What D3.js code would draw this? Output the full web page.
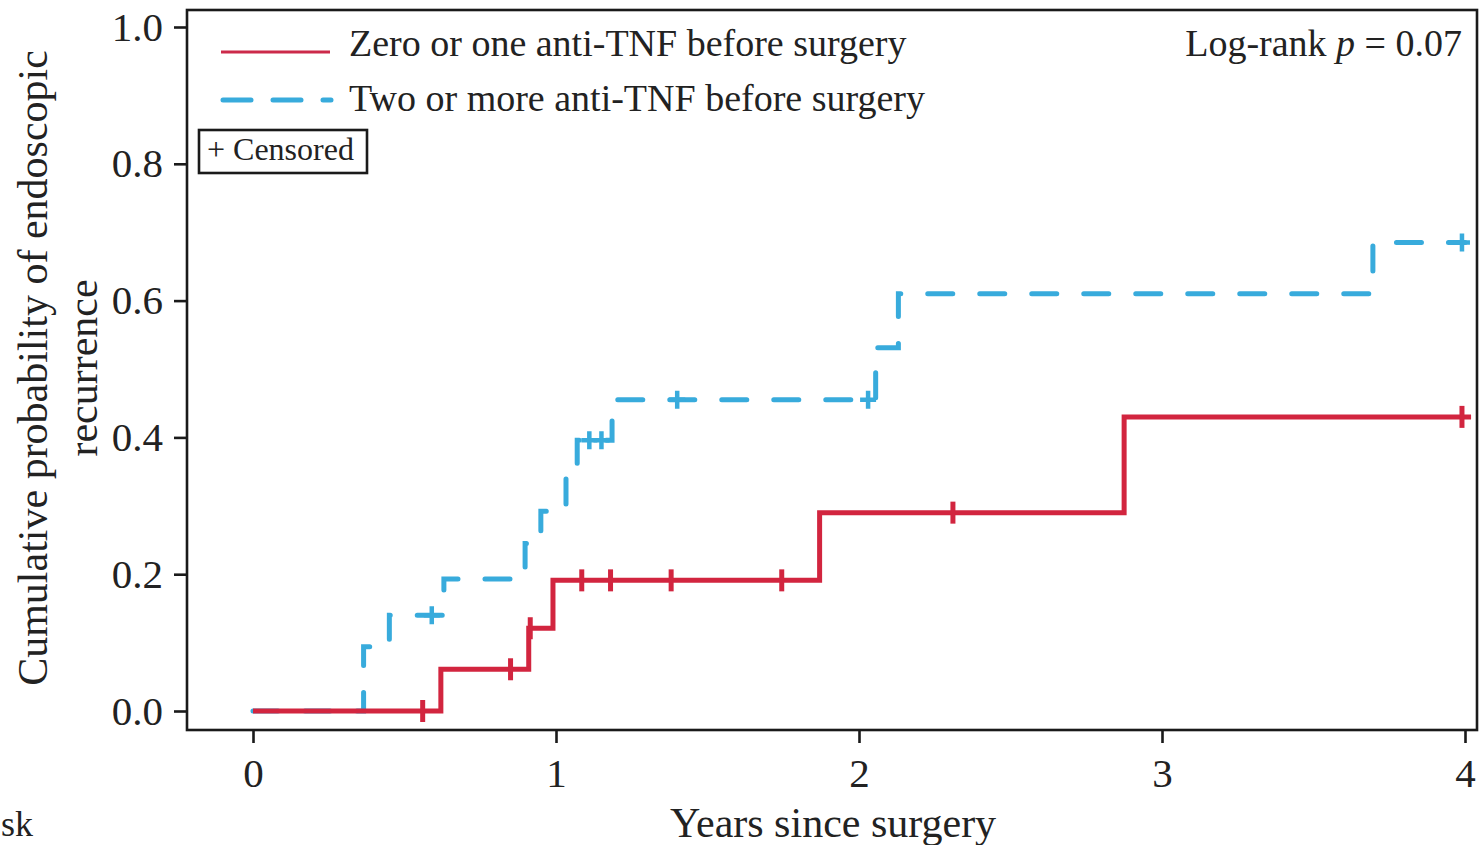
<!DOCTYPE html>
<html>
<head>
<meta charset="utf-8">
<script src="https://cdn.jsdelivr.net/npm/d3@7"></script>
<style>
  body { margin: 0; background: #fff; }
  svg { display: block; font-family: "Liberation Serif", "Times New Roman", serif; }
</style>
</head>
<body>
<div id="chart"></div>
<script>
// Kaplan-Meier style cumulative probability
const lowTimes = [0, 0.62, 0.91, 0.99, 1.87, 2.875, 4.02];
const lowProb = [0, 0.061, 0.121, 0.191, 0.29, 0.43, 0.43];
const lowCensor = [0.56, 0.85, 0.915, 1.085, 1.18, 1.38, 1.745, 2.31, 3.99];

const highTimes = [0, 0.365, 0.45, 0.63, 0.898, 0.95, 1.033, 1.07, 1.185, 2.055, 2.13, 3.696, 4.0];
const highProb = [0, 0.094, 0.14, 0.193, 0.245, 0.292, 0.346, 0.396, 0.455, 0.531, 0.61, 0.685, 0.685];
const highCensor = [0.59, 1.11, 1.15, 1.40, 2.03, 3.99];

const seriesNames = ["Zero or one anti-TNF before surgery", "Two or more anti-TNF before surgery"];
const xTicks = [0, 1, 2, 3, 4];
const yTicks = [0, 0.2, 0.4, 0.6, 0.8, 1.0];

const W = 1479, H = 845;
const red = "#d2253f", blue = "#38abdc";

const svg = d3.select("#chart").append("svg")
    .attr("width", W)
    .attr("height", H);

const x = d3.scaleLinear().domain([0, 4]).range([253, 1465]);
const y = d3.scaleLinear().domain([0, 1]).range([711, 27]);

// frame
svg.append("rect")
    .attr("x", 187).attr("y", 10)
    .attr("width", 1290).attr("height", 720)
    .attr("fill", "none")
    .attr("stroke", "#1a1a1a")
    .attr("stroke-width", 2.6);

const yAxis = svg.append("g")
    .attr("transform", "translate(187,0)")
    .call(d3.axisLeft(y).tickValues(yTicks).tickFormat(d3.format(".1f")).tickSize(13).tickPadding(11));
const xAxis = svg.append("g")
    .attr("transform", "translate(0,730)")
    .call(d3.axisBottom(x).tickValues(xTicks).tickFormat(d3.format("d")).tickSize(13).tickPadding(15));

[xAxis, yAxis].forEach(a => {
    a.select(".domain").remove();
    a.selectAll(".tick line").attr("stroke", "#1a1a1a").attr("stroke-width", 2.6);
    a.selectAll(".tick text")
        .attr("fill", "#222")
        .style("font-family", "Liberation Serif, serif")
        .style("font-size", "41px");
});

// step value at time t
function stepAt(times, probs, t) {
    let v = probs[0];
    times.forEach((tt, i) => { if (tt <= t) v = probs[i]; });
    return v;
}

const line = d3.line()
    .x(d => x(d[0]))
    .y(d => y(d[1]))
    .curve(d3.curveStepAfter);

// two or more anti-TNF (dashed)
svg.append("path")
    .attr("d", line(highTimes.map((t, i) => [t, highProb[i]])))
    .attr("fill", "none")
    .attr("stroke", blue)
    .attr("stroke-width", 5)
    .attr("stroke-linecap", "round")
    .attr("stroke-dasharray", "25,27");

svg.selectAll(".cens-high").data(highCensor).enter().append("path")
    .attr("class", "cens-high")
    .attr("d", d => {
        const cx = x(d), cy = y(stepAt(highTimes, highProb, d));
        return `M${cx},${cy - 9}V${cy + 9}M${cx - 8},${cy}H${cx + 8}`;
    })
    .attr("stroke", blue)
    .attr("stroke-width", 4.5)
    .attr("fill", "none");

// zero or one anti-TNF (solid)
svg.append("path")
    .attr("d", line(lowTimes.map((t, i) => [t, lowProb[i]])))
    .attr("fill", "none")
    .attr("stroke", red)
    .attr("stroke-width", 5);

svg.selectAll(".cens-low").data(lowCensor).enter().append("path")
    .attr("class", "cens-low")
    .attr("d", d => {
        const cx = x(d), cy = y(stepAt(lowTimes, lowProb, d));
        return `M${cx},${cy - 11}V${cy + 11}`;
    })
    .attr("stroke", red)
    .attr("stroke-width", 5)
    .attr("fill", "none");

// legend
svg.append("line")
    .attr("x1", 221).attr("x2", 330).attr("y1", 52).attr("y2", 52)
    .attr("stroke", "#cc2a4a").attr("stroke-width", 3);
svg.append("line")
    .attr("x1", 223).attr("x2", 331).attr("y1", 100).attr("y2", 100)
    .attr("stroke", blue).attr("stroke-width", 5)
    .attr("stroke-linecap", "round")
    .attr("stroke-dasharray", "28,22");

svg.selectAll(".leg-text").data(seriesNames).enter().append("text")
    .attr("class", "leg-text")
    .attr("x", 349)
    .attr("y", (d, i) => i === 0 ? 56 : 111)
    .attr("fill", "#222")
    .style("font-size", "38px")
    .text(d => d);

svg.append("rect")
    .attr("x", 199).attr("y", 130)
    .attr("width", 168).attr("height", 43)
    .attr("fill", "none")
    .attr("stroke", "#1a1a1a")
    .attr("stroke-width", 2.6);
svg.append("text")
    .attr("x", 207).attr("y", 160)
    .attr("fill", "#222")
    .style("font-size", "32px")
    .text("+ Censored");

const lr = svg.append("text")
    .attr("x", 1462).attr("y", 56)
    .attr("text-anchor", "end")
    .attr("fill", "#222")
    .style("font-size", "38px");
lr.append("tspan").text("Log-rank ");
lr.append("tspan").style("font-style", "italic").text("p");
lr.append("tspan").text(" = 0.07");

// axis titles
svg.append("text")
    .attr("transform", "translate(47,368) rotate(-90)")
    .attr("text-anchor", "middle")
    .attr("fill", "#222")
    .style("font-size", "42px")
    .text("Cumulative probability of endoscopic");
svg.append("text")
    .attr("transform", "translate(97,368) rotate(-90)")
    .attr("text-anchor", "middle")
    .attr("fill", "#222")
    .style("font-size", "42px")
    .text("recurrence");

svg.append("text")
    .attr("x", 833).attr("y", 837)
    .attr("text-anchor", "middle")
    .attr("fill", "#222")
    .style("font-size", "42px")
    .text("Years since surgery");

svg.append("text")
    .attr("x", 1).attr("y", 836)
    .attr("fill", "#222")
    .style("font-size", "36px")
    .text("sk");
</script>
</body>
</html>
